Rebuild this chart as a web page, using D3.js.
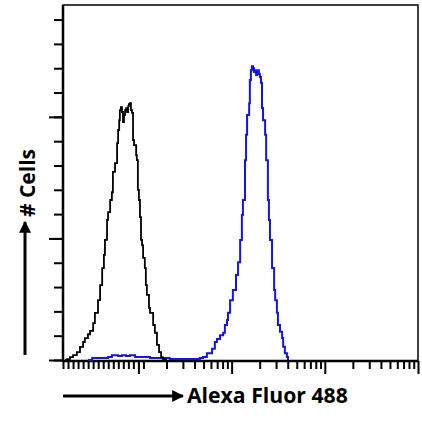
<!DOCTYPE html>
<html><head><meta charset="utf-8">
<script src="https://cdn.jsdelivr.net/npm/d3@7"></script>
<style>body{margin:0;background:#fff}svg{display:block}</style></head>
<body>
<script>
// ---- data (x in display channels 0..1024, y in cell counts) ----
const blackChannels = [6,12,20,29,40,49,58,63,72,78,87,92,101,107,113,118,121,127,130,136,141,144,150,156,159,162,164,167,170,173,176,179,182,185,188,190,193,196,199,202,205,211,213,216,219,222,225,228,231,236,239,242,248,251,260,265,271,277,283,288,297];
const blackCounts   = [0,0.2,0.6,1.0,1.6,2.7,3.7,4.5,5.3,6.0,7.6,9.7,12.3,15.4,18.9,21.6,24.7,28.8,30.4,32.9,34.5,38.7,40.5,44.6,47.3,49.3,51.4,52.0,51.0,48.9,50.4,51.4,51.8,51.0,52.2,52.6,52.8,51.4,50.8,45.2,44.2,42.1,41.1,35.0,32.9,29.4,24.7,23.6,21.0,18.9,15.4,13.4,10.7,9.7,7.2,5.6,3.1,1.6,0.6,0.2,0];
const blueChannels = [72,84,107,130,141,159,170,182,193,208,228,251,280,308,352,381,395,404,415,430,438,444,453,462,467,473,476,482,490,499,505,511,516,519,525,528,531,537,539,542,545,548,551,554,557,560,562,565,568,571,574,577,583,586,591,594,597,603,609,612,617,620,626,632,635,640,646,649];
const blueCounts   = [0,0.4,0.4,0.6,1.0,0.8,1.0,0.8,1.0,0.6,0.6,0.4,0.4,0.2,0.2,0.2,0.4,0.6,1.4,2.3,3.7,4.3,5.1,5.6,7.2,8.2,9.7,12.3,14.4,17.5,20.1,24.7,29.8,32.9,41.1,46.3,50.4,52.8,57.6,59.6,60.4,60.0,59.2,59.6,58.6,58.8,59.6,58.8,58.2,57.0,51.8,49.3,46.3,41.1,32.9,28.8,24.7,18.9,14.4,12.3,9.7,7.2,5.8,4.5,2.7,1.4,0.6,0];

// axis ticks
const yMinorTicks = d3.range(0, 75, 5);
const yMajorTicks = [0, 25, 50];
const decadeValues = [10, 100, 1000, 10000];
const minorMultipliers = [2,3,4,5,6,7,8,9];
const linearTicks = d3.range(0, 240, 14.5);   // channels in the linear (near-zero) part
const xLabel = "Alexa Fluor 488";
const yLabel = "# Cells";

// ---- layout ----
const W = 422, H = 425;
const L = 63, R = 418, T = 5, B = 361;

const svg = d3.select("body").append("svg").attr("width", W).attr("height", H);

const x = d3.scaleLinear().domain([0, 1024]).range([L, R]);
const y = d3.scaleLinear().domain([0, 73]).range([B - 1, T]);
// fluorescence -> channel (log part of the display)
const fl = d3.scaleLog().domain([10, 10000]).range([217.6, 1024]);

const logMinor = [];
decadeValues.slice(0, -1).forEach(d => minorMultipliers.forEach(k => logMinor.push(fl(d * k))));
const xMinorTicks = linearTicks.concat(logMinor);
const xMajorTicks = decadeValues.map(fl);

// frame
svg.append("rect").attr("x", L).attr("y", T).attr("width", R - L).attr("height", B - T)
  .attr("fill", "none").attr("stroke", "#000").attr("stroke-width", 1.5);

function styleAxis(g) {
  g.select(".domain").remove();
  g.selectAll("line").attr("stroke", "#000").attr("stroke-width", 2);
  g.selectAll("text").remove();
}
svg.append("g").attr("transform", `translate(0,${B})`)
  .call(d3.axisBottom(x).tickValues(xMinorTicks).tickSize(8).tickFormat("")).call(styleAxis);
svg.append("g").attr("transform", `translate(0,${B})`)
  .call(d3.axisBottom(x).tickValues(xMajorTicks).tickSize(13).tickFormat("")).call(styleAxis);
svg.append("g").attr("transform", `translate(${L},0)`)
  .call(d3.axisLeft(y).tickValues(yMinorTicks).tickSize(9).tickFormat("")).call(styleAxis);
svg.append("g").attr("transform", `translate(${L},0)`)
  .call(d3.axisLeft(y).tickValues(yMajorTicks).tickSize(14).tickFormat("")).call(styleAxis);

// axis lines
svg.append("line").attr("x1", L).attr("x2", L).attr("y1", T).attr("y2", B + 1)
  .attr("stroke", "#000").attr("stroke-width", 2.5);
svg.append("line").attr("x1", L).attr("x2", R).attr("y1", B).attr("y2", B)
  .attr("stroke", "#000").attr("stroke-width", 2.5);

// histograms
const line = d3.line().x(d => x(d[0])).y(d => y(d[1])).curve(d3.curveStepAfter);
svg.append("path").datum(d3.zip(blueChannels, blueCounts)).attr("d", line)
  .attr("fill", "none").attr("stroke", "#1414e6").attr("stroke-width", 2);
svg.append("path").datum(d3.zip(blackChannels, blackCounts)).attr("d", line)
  .attr("fill", "none").attr("stroke", "#000").attr("stroke-width", 1.8);

// axis arrows + labels
const defs = svg.append("defs");
defs.append("marker").attr("id", "ah").attr("viewBox", "0 0 10 10").attr("refX", 9).attr("refY", 5)
  .attr("markerWidth", 4).attr("markerHeight", 4).attr("markerUnits", "strokeWidth").attr("orient", "auto")
  .append("path").attr("d", "M0,0 L10,5 L0,10 Z").attr("fill", "#000");

svg.append("line").attr("x1", 63).attr("x2", 183).attr("y1", 396).attr("y2", 396)
  .attr("stroke", "#000").attr("stroke-width", 3).attr("marker-end", "url(#ah)");
svg.append("text").attr("x", 187).attr("y", 403).text(xLabel)
  .attr("font-family", "'Open Sans', sans-serif").attr("font-weight", 700).attr("font-size", 21.2).attr("fill", "#000");

svg.append("line").attr("x1", 25).attr("x2", 25).attr("y1", 355).attr("y2", 222)
  .attr("stroke", "#000").attr("stroke-width", 3).attr("marker-end", "url(#ah)");
svg.append("text").attr("transform", "translate(35,183) rotate(-90)").attr("text-anchor", "middle")
  .text(yLabel)
  .attr("font-family", "'Open Sans', sans-serif").attr("font-weight", 700).attr("font-size", 21).attr("fill", "#000");
</script>
</body></html>
